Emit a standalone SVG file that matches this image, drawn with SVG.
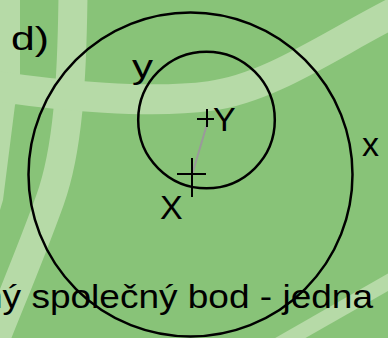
<svg xmlns="http://www.w3.org/2000/svg" width="388" height="338" viewBox="0 0 388 338">
  <style>
    .band { fill: none; stroke: #b6daa7; stroke-linecap: butt; }
    .circ { fill: none; stroke: #000; stroke-width: 2.5; }
    .cross { stroke: #000; stroke-width: 2; }
    .lbl { font-family: "Liberation Sans", Arial, sans-serif; font-size: 34px; fill: #000; }
  </style>
  <g id="background">
    <rect x="0" y="0" width="388" height="338" fill="#88c378"/>
    <polygon points="0,0 20,0 20,95 15,105 3,200 0,210" fill="#b6daa7"/>
    <path class="band" d="M 73 -5 C 72 80, 68 150, 50 200 S 15 290, -5 340" stroke-width="29"/>
    <path class="band" d="M -5 86 C 60 96, 150 104, 210 96 S 330 45, 395 12" stroke-width="30"/>
    <path class="band" d="M 250 361 L 420 264" stroke-width="15" stroke="#aed6a0"/>
  </g>
  <g id="label-d">
    <text class="lbl" x="11" y="50" font-size="35" textLength="38" lengthAdjust="spacingAndGlyphs">d)</text>
  </g>
  <g id="circle-x">
    <circle class="circ" cx="190.5" cy="174.5" r="162"/>
    <text class="lbl" x="362" y="156">x</text>
  </g>
  <g id="circle-y">
    <circle class="circ" cx="206.5" cy="120" r="68.3"/>
    <text class="lbl" x="132" y="78" textLength="21" lengthAdjust="spacingAndGlyphs">y</text>
  </g>
  <g id="connectors">
    <line x1="208" y1="121" x2="192.5" y2="173" stroke="#9a9a9a" stroke-width="2"/>
  </g>
  <g id="point-Y">
    <line class="cross" x1="197" y1="119" x2="214" y2="119"/>
    <line class="cross" x1="207" y1="109" x2="207" y2="127"/>
    <text class="lbl" x="213" y="131">Y</text>
  </g>
  <g id="point-X">
    <line class="cross" x1="177" y1="174" x2="206" y2="174"/>
    <line class="cross" x1="192" y1="158" x2="192" y2="197"/>
    <text class="lbl" x="160" y="219">X</text>
  </g>
  <g id="caption">
    <text class="lbl" x="-18" y="308" font-size="32" textLength="391" lengthAdjust="spacingAndGlyphs">ný společný bod - jedna</text>
  </g>
</svg>
